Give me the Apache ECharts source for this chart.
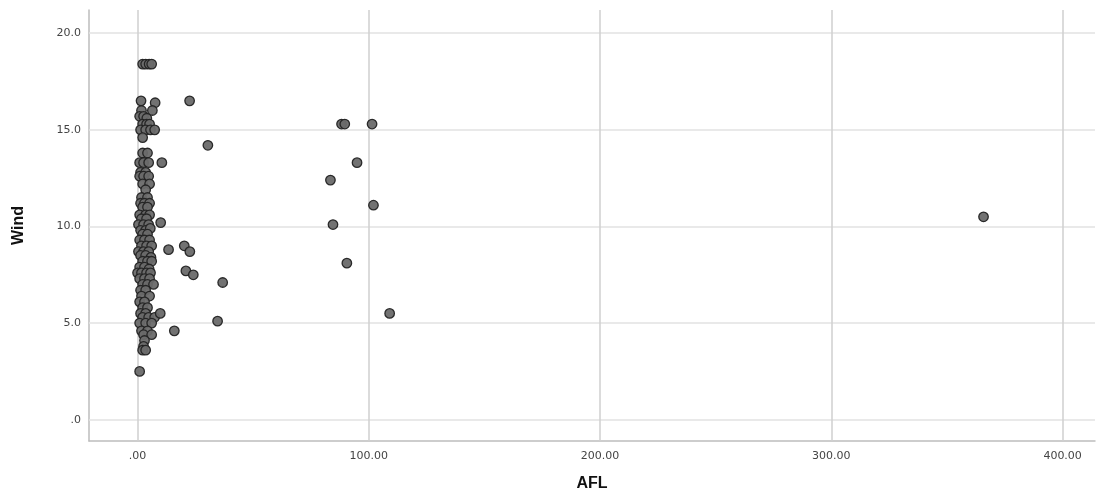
<!DOCTYPE html>
<html>
<head>
<meta charset="utf-8">
<script src="https://cdn.jsdelivr.net/npm/echarts@6/dist/echarts.min.js"></script>
<style>
  html, body { margin: 0; padding: 0; background: #ffffff; }
  #chart { width: 1099px; height: 491px; }
</style>
</head>
<body>
<div id="chart"></div>
<script>
// AFL / Wind observations
const afl = [
  2.2, 3.5, 5.0, 6.1,
  1.5, 7.6,
  1.7, 6.4,
  0.9, 2.6, 4.0,
  2.2, 3.9, 5.2,
  1.3, 3.5, 5.6, 7.4,
  2.2,
  2.2, 4.3,
  0.9, 2.6, 4.8,
  1.3, 3.5,
  0.9, 2.6, 4.8,
  2.2, 5.2,
  3.5,
  1.7, 4.3,
  1.3, 3.0, 5.2,
  2.2, 4.3,
  0.9, 3.5, 5.2,
  1.7, 3.9,
  0.4, 2.6, 4.8,
  1.3, 3.5, 5.5,
  2.2, 4.3,
  0.9, 3.0, 5.2,
  1.7, 3.9, 6.1,
  0.4, 2.6, 4.8,
  1.3, 3.5, 5.8,
  2.2, 4.3, 6.1,
  0.9, 3.0, 5.0,
  0.0, 1.7, 3.9, 5.6,
  0.9, 3.0, 5.2,
  2.2, 4.3, 6.9,
  1.3, 3.5,
  1.7, 5.2,
  0.9, 3.0,
  2.2, 4.3,
  1.3, 3.5,
  2.2, 4.8, 7.4,
  0.9, 3.5, 6.1,
  1.7, 4.3,
  2.6, 6.1,
  3.0,
  2.6,
  2.2, 3.5,
  0.9,
  22.5, 88.2, 89.6, 101.4, 30.4, 10.5, 94.9, 83.4, 102.0, 10.0,
  84.5, 365.8, 13.4, 20.2, 22.6, 90.5, 20.9, 24.1, 36.8, 9.8,
  109.0, 34.6, 15.9
];
const wind = [
  18.4, 18.4, 18.4, 18.4,
  16.5, 16.4,
  16.0, 16.0,
  15.7, 15.7, 15.6,
  15.3, 15.3, 15.3,
  15.0, 15.0, 15.0, 15.0,
  14.6,
  13.8, 13.8,
  13.3, 13.3, 13.3,
  12.8, 12.8,
  12.6, 12.6, 12.6,
  12.2, 12.2,
  11.9,
  11.5, 11.5,
  11.2, 11.2, 11.2,
  11.0, 11.0,
  10.6, 10.6, 10.6,
  10.4, 10.4,
  10.1, 10.1, 10.1,
  9.8, 9.8, 9.9,
  9.6, 9.6,
  9.3, 9.3, 9.3,
  9.0, 9.0, 9.0,
  8.7, 8.7, 8.7,
  8.5, 8.5, 8.4,
  8.2, 8.2, 8.2,
  7.9, 7.9, 7.8,
  7.6, 7.6, 7.6, 7.6,
  7.3, 7.3, 7.3,
  7.0, 7.0, 7.0,
  6.7, 6.7,
  6.4, 6.4,
  6.1, 6.1,
  5.8, 5.8,
  5.5, 5.5,
  5.3, 5.3, 5.3,
  5.0, 5.0, 5.0,
  4.6, 4.6,
  4.4, 4.4,
  4.1,
  3.8,
  3.6, 3.6,
  2.5,
  16.5, 15.3, 15.3, 15.3, 14.2, 13.3, 13.3, 12.4, 11.1, 10.2,
  10.1, 10.5, 8.8, 9.0, 8.7, 8.1, 7.7, 7.5, 7.1, 5.5,
  5.5, 5.1, 4.6
];

const xTicks = [0, 100, 200, 300, 400];
const yTicks = [0, 5, 10, 15, 20];

const points = afl.map((a, i) => [a, wind[i]]);

const fmtX = v => (v === 0 ? '.00' : v.toFixed(2));
const fmtY = v => (v === 0 ? '.0' : v.toFixed(1));

const labelStyle = { color: '#444', fontSize: 11, fontFamily: 'DejaVu Sans' };
const nameStyle = { color: '#111', fontSize: 16, fontWeight: 'bold', fontFamily: 'Liberation Sans' };

const chart = echarts.init(document.getElementById('chart'), null, { renderer: 'canvas' });
chart.setOption({
  animation: false,
  backgroundColor: '#ffffff',
  grid: { left: 89, right: 4, top: 10, bottom: 50, containLabel: false, outerBoundsMode: 'none' },
  xAxis: {
    type: 'value',
    min: -21,
    max: 414,
    name: 'AFL',
    nameLocation: 'middle',
    nameGap: 35,
    nameTextStyle: nameStyle,
    axisLine: { show: true, onZero: false, lineStyle: { color: '#bdbdbd', width: 1.5 } },
    axisTick: { show: false },
    splitLine: { show: false },
    axisLabel: Object.assign({ customValues: xTicks, formatter: fmtX, margin: 10 }, labelStyle)
  },
  yAxis: {
    type: 'value',
    min: -1.1,
    max: 21.2,
    name: 'Wind',
    nameLocation: 'middle',
    nameGap: 62,
    nameRotate: 90,
    nameTextStyle: nameStyle,
    axisLine: { show: true, onZero: false, lineStyle: { color: '#bdbdbd', width: 1.5 } },
    axisTick: { show: false },
    splitLine: { show: false },
    axisLabel: Object.assign({ customValues: yTicks, formatter: fmtY, margin: 8 }, labelStyle)
  },
  series: [
    {
      type: 'scatter',
      data: points,
      symbol: 'circle',
      symbolSize: 9.5,
      itemStyle: { color: '#6a6a6a', borderColor: '#222222', borderWidth: 1.3, opacity: 0.95 },
      z: 5,
      markLine: {
        silent: true,
        symbol: ['none', 'none'],
        label: { show: false },
        animation: false,
        data: [
          ...yTicks.map(v => ({ yAxis: v, lineStyle: { color: '#e2e2e2', width: 1.5, type: 'solid' } })),
          ...xTicks.map(v => ({ xAxis: v, lineStyle: { color: '#cfcfcf', width: 1.5, type: 'solid' } }))
        ],
        z: 1
      }
    }
  ]
});
</script>
</body>
</html>
